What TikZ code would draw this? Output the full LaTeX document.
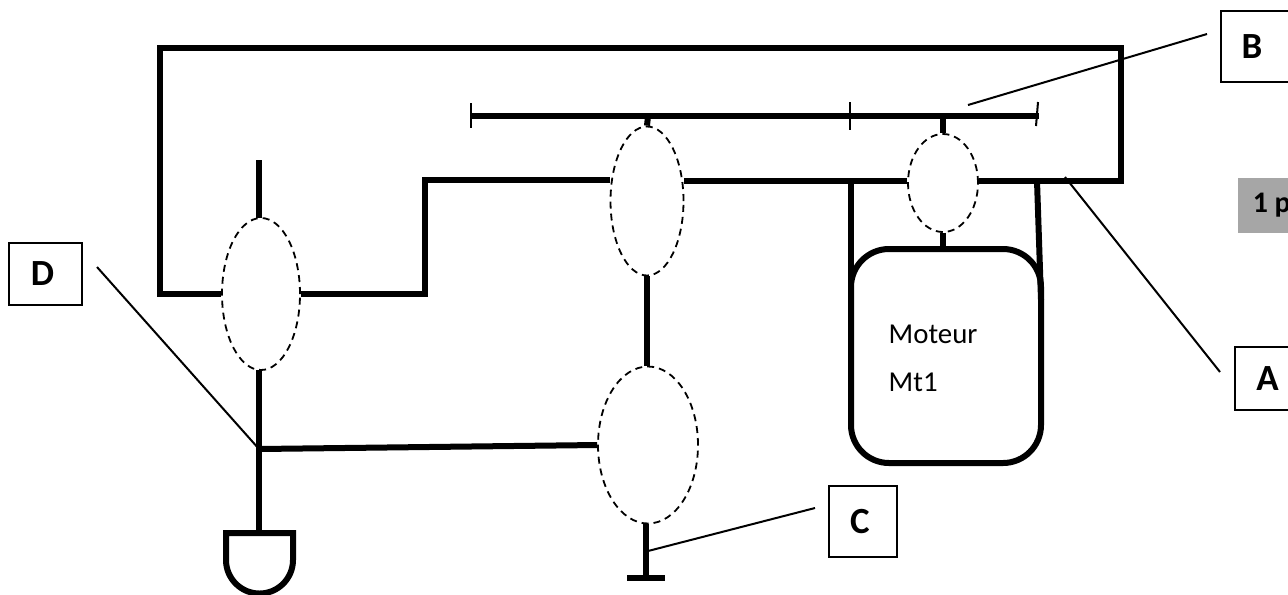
\documentclass[tikz,border=0pt]{standalone}
\usepackage{fontspec}
\setmainfont{Carlito}
\usetikzlibrary{shapes.geometric}

\tikzset{
	wire/.style={line width=0.06cm},
	leader/.style={line width=0.02cm},
	oval/.style={draw,ellipse,line width=0.018cm,dash pattern=on 0.07cm off 0.05cm,inner sep=0},
	letter/.style={draw,line width=0.02cm,font=\fontsize{10.5}{12}\selectfont\bfseries,inner sep=0}
}

\begin{document}
\begin{tikzpicture}[y=-1cm]
		\useasboundingbox (0,0) rectangle (12.88,5.94);
		\clip (0,0) rectangle (12.88,5.94);

		% ovals
		\node[oval,minimum width=0.78cm,minimum height=1.52cm] (ovalD) at (2.61,2.94) {};
		\node[oval,minimum width=0.73cm,minimum height=1.49cm] (ovalM) at (6.47,2.01) {};
		\node[oval,minimum width=0.70cm,minimum height=0.98cm] (ovalR) at (9.43,1.83) {};
		\node[oval,minimum width=1.00cm,minimum height=1.57cm] (ovalC) at (6.48,4.45) {};

		% motor
		\node[draw,wire,rounded corners=0.38cm,minimum width=1.90cm,minimum height=2.14cm,inner sep=0] (motor) at (9.46,3.56) {};
		\node[anchor=west,inner sep=0,font=\fontsize{8.2}{10}\selectfont] (motorA) at (8.88,3.34) {Moteur};
		\node[anchor=west,inner sep=0,font=\fontsize{8.2}{10}\selectfont] (motorB) at (8.88,3.82) {Mt1};

		% bus
		\coordinate (busL) at (4.71,1.16);
		\coordinate (busR) at (10.39,1.16);
		\draw[wire] (busL) -- (busR);
		\draw[leader] (4.71,1.03) -- (4.71,1.28);
		\draw[leader] (8.50,1.02) -- (8.50,1.30);
		\draw[leader] (10.38,1.02) -- (10.36,1.26);
		\draw[wire] (6.48,1.16) -- (ovalM.north);
		\draw[wire] (9.43,1.16) -- (ovalR.north);
		\draw[wire] (ovalR.south) -- (9.43,2.49);

		% main wires
		\draw[wire] (ovalM.west |- 0,1.80) -- (4.25,1.80) -- (4.25,2.94) -- (ovalD.east);
		\draw[wire] (ovalD.west) -- (1.60,2.94) -- (1.60,0.48) -- (11.21,0.48) -- (11.21,1.81) -- (ovalR.east |- 0,1.81);
		\draw[wire] (ovalM.east |- 0,1.81) -- (ovalR.west |- 0,1.81);
		\draw[wire] (8.51,1.81) -- (8.51,2.95);
		\draw[wire] (10.37,1.81) -- (10.41,3.00);
		\draw[wire] (ovalM.south) -- (ovalC.north -| 6.47,0);

		% left column
		\coordinate (nodeD) at (2.59,4.49);
		\draw[wire] (2.59,1.60) -- (2.59,2.18);
		\draw[wire] (2.59,3.70) -- (2.59,5.33);
		\draw[wire] (nodeD) -- (ovalC.west);

		% lamp and earth
		\draw[line width=0.06cm] (2.26,5.33) -- (2.93,5.33) -- (2.93,5.60) arc (0:180:0.335) -- cycle;
		\coordinate (earth) at (6.46,5.78);
		\draw[wire] (ovalC.south -| 6.46,0) -- (earth);
		\draw[wire] (6.27,5.78) -- (6.65,5.78);

		% letters
		\node[letter,minimum width=0.87cm,minimum height=0.71cm] (boxB) at (12.645,0.465) {\hspace*{-0.25cm}B};
		\node[letter,minimum width=0.87cm,minimum height=0.63cm] (boxA) at (12.78,3.785) {\hspace*{-0.21cm}A};
		\node[letter,minimum width=0.68cm,minimum height=0.71cm] (boxC) at (8.63,5.215) {\hspace*{-0.06cm}C};
		\node[letter,minimum width=0.73cm,minimum height=0.62cm] (boxD) at (0.455,2.74) {\hspace*{-0.06cm}D};
		\node[fill=black!35,inner sep=0,minimum width=0.90cm,minimum height=0.55cm,anchor=west,font=\fontsize{8.5}{10}\selectfont\bfseries] (note) at (12.37,2.055) {\hspace*{-0.22cm}1 p};

		% leaders
		\draw[leader] (12.07,0.34) -- (9.68,1.05);
		\draw[leader] (10.65,1.77) -- (12.20,3.72);
		\draw[leader] (8.15,5.08) -- (6.48,5.51);
		\draw[leader] (0.97,2.67) -- (nodeD);
	\end{tikzpicture}
\end{document}
